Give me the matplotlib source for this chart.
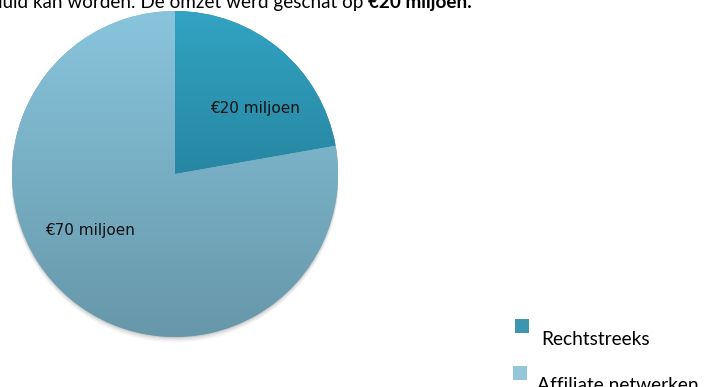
import numpy as np
import matplotlib
matplotlib.use("Agg")
import matplotlib.pyplot as plt
from matplotlib.colors import LinearSegmentedColormap
from matplotlib.patches import Rectangle, Circle

categories = ["Rechtstreeks", "Affiliate netwerken"]
values = [20, 70]
value_labels = ["€20 miljoen", "€70 miljoen"]

W, H = 704, 387
fig = plt.figure(figsize=(W / 100, H / 100), dpi=100)
fig.patch.set_facecolor("white")

# Partially cut-off sentence at the top
TOP_FS = 13.6
txt0 = fig.text(-0.012, 1 - 8 / H, "duid kan worden. De omzet werd geschat op ",
                fontsize=TOP_FS, family="Lato", va="baseline", ha="left", color="black")

cx, cy, r = 175, 174, 163
ax = fig.add_axes([(cx - r) / W, (H - cy - r - 6) / H, 2 * r / W, (2 * r + 6) / H])
wedges, _ = ax.pie(values, startangle=90, counterclock=False, radius=1,
                   colors=["#2b8fab", "#7ab3c8"],
                   wedgeprops=dict(linewidth=0, zorder=2))
ax.set_xlim(-1, 1)
ax.set_ylim(-1 - 6 / r, 1)
ax.set_aspect("auto")
ax.axis("off")

# soft shadow under the pie
for k, a in zip([0.025, 0.018, 0.011, 0.005], [0.05, 0.07, 0.09, 0.12]):
    ax.add_patch(Circle((0, -k), 1.0 + k * 0.3, facecolor="#555555", alpha=a,
                        edgecolor="none", zorder=1))

grads = [("#32a3c3", "#1c6a80"), ("#88c5dd", "#6797a9")]
grad = np.linspace(1, 0, 256).reshape(-1, 1)
for w, (top, bot) in zip(wedges, grads):
    cmap = LinearSegmentedColormap.from_list("g", [bot, top])
    im = ax.imshow(grad, extent=(-1, 1, -1, 1), cmap=cmap, aspect="auto",
                   origin="upper", zorder=3)
    im.set_clip_path(w)

# labels inside slices
ax.text((255 - cx) / r, (cy - 109) / r, value_labels[0], ha="center", va="center",
        fontsize=11, family="DejaVu Sans", zorder=4, color="#111111")
ax.text((90 - cx) / r, (cy - 230) / r, value_labels[1], ha="center", va="center",
        fontsize=11, family="DejaVu Sans", zorder=4, color="#111111")

# bold end of the sentence
fig.canvas.draw()
bb = txt0.get_window_extent()
fig.text(bb.x1 / W, 1 - 8 / H, "€20 miljoen.", fontsize=TOP_FS, family="Lato",
         weight="bold", va="baseline", ha="left", color="black")

# legend
leg_colors = ["#3d95b0", "#93c6d8"]
sq = [(515, 319), (513, 366)]
txt_pos = [(541, 345), (537, 391)]
for (sx, sy), (tx, ty), c, lab in zip(sq, txt_pos, leg_colors, categories):
    fig.patches.append(Rectangle((sx / W, 1 - (sy + 14) / H), 14 / W, 14 / H,
                                 transform=fig.transFigure, facecolor=c,
                                 edgecolor="none"))
    fig.text(tx / W, 1 - ty / H, lab, fontsize=13.8, family="Lato",
             va="baseline", ha="left", color="black")

fig.savefig("out.png", dpi=100)
